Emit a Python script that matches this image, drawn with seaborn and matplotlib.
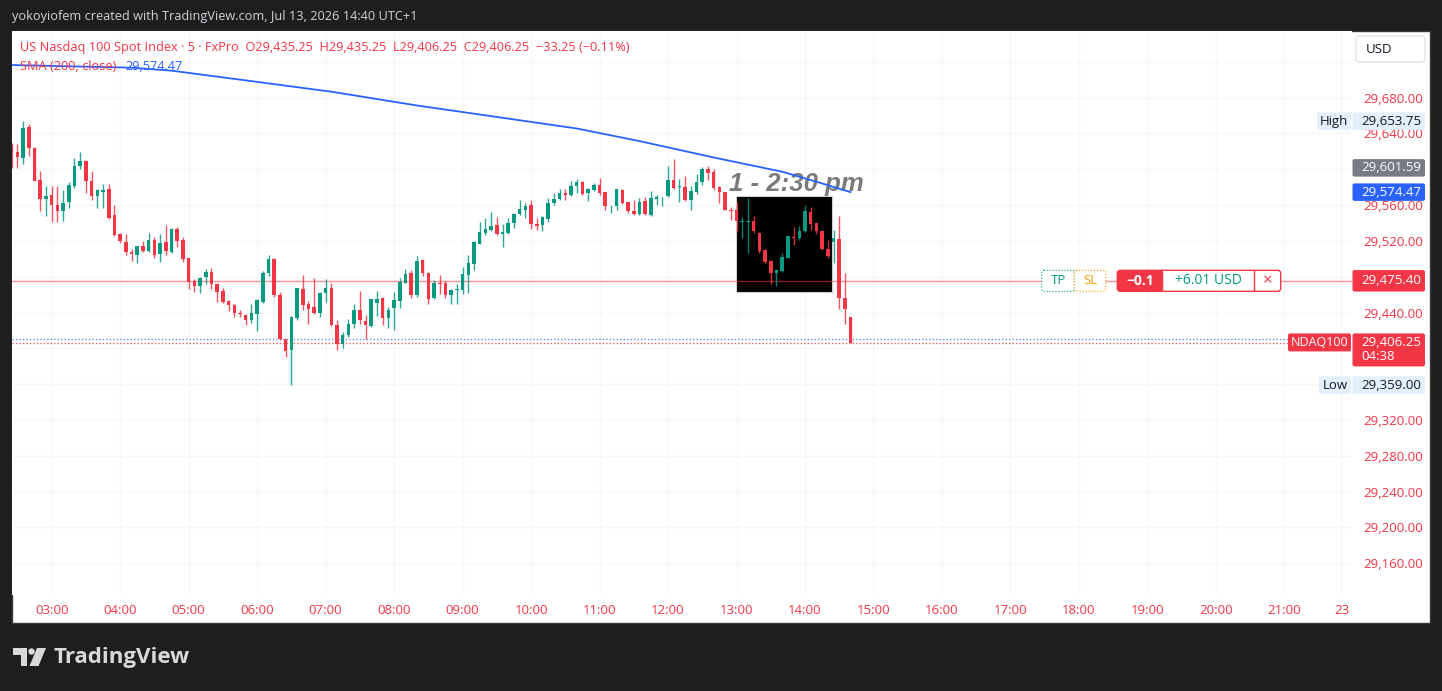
import numpy as np
import pandas as pd
import seaborn as sns
import matplotlib.pyplot as plt
from matplotlib.patches import Rectangle, FancyBboxPatch, Polygon, Circle

# 5 minute candles, first bar 02:25, last bar 14:40
opens = [29624.7, 29618.8, 29612.5, 29647.0, 29624.0, 29587.6, 29567.2, 29571.6, 29559.8, 29553.1,
         29563.1, 29581.7, 29603.2, 29608.8, 29587.2, 29570.5, 29574.6, 29578.0, 29549.4, 29527.8,
         29518.9, 29507.8, 29504.8, 29514.1, 29508.5, 29520.8, 29505.9, 29518.6, 29507.4, 29533.4,
         29520.8, 29500.4, 29475.1, 29469.6, 29479.6, 29485.2, 29472.2, 29463.6, 29452.9, 29448.4,
         29439.1, 29437.6, 29431.3, 29438.4, 29452.1, 29484.4, 29500.0, 29459.9, 29410.2, 29397.9,
         29433.6, 29466.6, 29449.1, 29446.2, 29439.1, 29462.1, 29467.7, 29425.8, 29404.6, 29414.6,
         29427.6, 29442.5, 29430.6, 29425.0, 29451.0, 29456.6, 29433.9, 29445.4, 29452.5, 29473.3,
         29483.7, 29459.2, 29498.5, 29484.4, 29456.6, 29472.5, 29473.3, 29459.2, 29465.1, 29464.7,
         29481.8, 29493.7, 29516.7, 29529.0, 29532.7, 29537.5, 29527.8, 29529.0, 29540.1, 29549.7,
         29554.9, 29559.8, 29539.0, 29538.2, 29544.9, 29562.0, 29567.2, 29573.5, 29571.3, 29581.7,
         29585.8, 29573.5, 29577.2, 29582.8, 29574.2, 29558.6, 29558.6, 29577.2, 29563.1, 29553.1,
         29550.5, 29564.2, 29549.4, 29567.2, 29568.7, 29569.8, 29588.3, 29580.2, 29580.2, 29565.3,
         29574.2, 29585.8, 29600.6, 29596.5, 29579.8, 29574.2, 29554.9, 29554.9, 29540.8, 29540.8,
         29541.9, 29529.0, 29509.6, 29497.4, 29483.7, 29486.3, 29501.1, 29524.1, 29523.0, 29530.8,
         29552.7, 29539.7, 29531.5, 29511.1, 29518.6, 29522.3, 29455.8, 29435.25]
highs = [29629.2, 29628.1, 29653.75, 29650.7, 29625.0, 29598.4, 29581.7, 29581.7, 29581.7, 29577.2,
         29585.4, 29612.5, 29618.8, 29610.6, 29597.6, 29578.0, 29583.9, 29583.9, 29560.5, 29528.9,
         29528.2, 29510.4, 29514.5, 29519.7, 29528.9, 29524.5, 29528.2, 29538.2, 29534.5, 29535.6,
         29524.5, 29501.0, 29477.0, 29479.6, 29488.1, 29490.0, 29473.3, 29467.7, 29453.6, 29449.1,
         29442.8, 29438.4, 29449.1, 29454.7, 29486.3, 29504.8, 29500.8, 29462.9, 29410.9, 29436.0,
         29467.7, 29481.8, 29452.9, 29478.8, 29462.9, 29477.0, 29472.5, 29431.3, 29418.3, 29433.2,
         29449.1, 29464.0, 29436.9, 29455.5, 29463.6, 29457.7, 29446.5, 29462.9, 29478.8, 29488.1,
         29487.0, 29502.6, 29499.3, 29485.2, 29476.2, 29481.8, 29475.1, 29465.9, 29471.4, 29490.7,
         29504.8, 29519.7, 29541.6, 29545.3, 29552.7, 29546.8, 29539.3, 29545.7, 29551.2, 29566.1,
         29562.4, 29565.3, 29545.7, 29547.5, 29567.6, 29573.5, 29578.0, 29578.0, 29587.2, 29589.1,
         29586.5, 29579.1, 29584.6, 29590.2, 29575.0, 29560.5, 29578.3, 29578.3, 29563.5, 29566.1,
         29567.9, 29569.0, 29576.1, 29571.6, 29569.5, 29603.9, 29611.4, 29589.1, 29592.8, 29580.9,
         29595.0, 29602.5, 29603.9, 29600.2, 29581.7, 29575.0, 29557.5, 29563.1, 29546.8, 29567.9,
         29548.3, 29529.7, 29511.1, 29498.5, 29488.1, 29506.7, 29526.0, 29535.3, 29537.1, 29559.8,
         29557.9, 29540.1, 29531.9, 29521.5, 29532.7, 29548.3, 29484.4, 29435.25]
lows = [29601.3, 29601.3, 29605.8, 29614.3, 29586.5, 29553.1, 29547.5, 29540.8, 29540.8, 29542.7,
        29556.8, 29579.1, 29600.2, 29573.5, 29566.1, 29556.8, 29556.8, 29545.0, 29526.0, 29517.8,
        29504.8, 29497.4, 29495.5, 29507.4, 29507.4, 29501.1, 29496.3, 29504.1, 29506.7, 29513.4,
        29496.7, 29466.6, 29462.9, 29462.1, 29471.4, 29465.9, 29451.7, 29451.0, 29441.7, 29435.4,
        29435.4, 29425.8, 29428.7, 29419.5, 29451.0, 29480.7, 29457.7, 29409.4, 29389.8, 29359.0,
        29431.7, 29442.5, 29427.6, 29438.4, 29435.4, 29451.7, 29425.0, 29398.3, 29400.5, 29413.1,
        29422.8, 29426.9, 29410.9, 29424.3, 29436.1, 29425.8, 29423.2, 29420.6, 29445.4, 29472.5,
        29456.2, 29457.7, 29480.7, 29449.1, 29455.5, 29460.3, 29456.2, 29449.1, 29449.1, 29460.3,
        29461.4, 29487.0, 29516.0, 29526.7, 29530.8, 29527.1, 29513.4, 29528.2, 29534.5, 29549.4,
        29545.7, 29533.4, 29532.7, 29530.8, 29541.6, 29560.5, 29565.3, 29566.1, 29570.5, 29573.5,
        29570.9, 29564.2, 29575.4, 29570.9, 29554.2, 29551.2, 29554.2, 29561.2, 29551.2, 29549.4,
        29549.4, 29549.4, 29548.3, 29560.5, 29559.4, 29569.0, 29578.3, 29563.5, 29564.2, 29554.2,
        29572.8, 29582.8, 29587.6, 29577.2, 29562.4, 29554.2, 29543.1, 29530.8, 29523.4, 29506.7,
        29528.9, 29506.7, 29495.5, 29471.4, 29469.6, 29485.5, 29500.4, 29515.2, 29521.5, 29529.7,
        29531.9, 29528.2, 29509.6, 29501.1, 29495.5, 29443.6, 29426.9, 29406.25]
closes = [29618.8, 29613.6, 29646.6, 29623.6, 29587.2, 29567.2, 29570.5, 29559.8, 29553.1, 29562.4,
          29582.8, 29603.9, 29608.8, 29587.2, 29570.5, 29577.2, 29577.2, 29545.7, 29527.1, 29519.7,
          29507.4, 29505.9, 29514.1, 29508.5, 29521.5, 29504.8, 29517.8, 29508.5, 29533.4, 29520.4,
          29499.3, 29474.0, 29469.6, 29478.8, 29485.2, 29471.4, 29463.2, 29452.1, 29448.0, 29439.1,
          29438.4, 29431.3, 29439.5, 29454.0, 29484.4, 29500.0, 29459.5, 29410.2, 29397.2, 29435.4,
          29467.0, 29448.0, 29444.3, 29439.1, 29462.1, 29467.0, 29425.8, 29404.6, 29415.0, 29426.9,
          29442.5, 29431.3, 29425.8, 29454.7, 29455.5, 29433.9, 29442.5, 29454.0, 29474.4, 29482.6,
          29459.5, 29497.4, 29484.4, 29454.7, 29472.5, 29471.8, 29459.5, 29464.7, 29465.9, 29482.6,
          29494.8, 29518.6, 29529.7, 29533.4, 29537.1, 29528.2, 29529.7, 29540.1, 29550.1, 29555.7,
          29559.0, 29539.0, 29537.1, 29546.4, 29562.0, 29567.2, 29573.5, 29571.3, 29580.9, 29585.4,
          29572.8, 29578.0, 29582.8, 29573.5, 29558.6, 29559.4, 29578.0, 29562.4, 29553.1, 29550.5,
          29563.1, 29550.5, 29567.9, 29569.0, 29569.0, 29588.3, 29579.1, 29580.6, 29565.3, 29575.4,
          29585.8, 29600.6, 29595.8, 29579.1, 29574.2, 29554.9, 29553.8, 29541.9, 29541.2, 29541.2,
          29530.8, 29508.5, 29496.7, 29484.4, 29487.0, 29502.2, 29525.2, 29523.0, 29531.5, 29553.8,
          29539.3, 29531.5, 29510.4, 29503.0, 29523.4, 29455.8, 29443.6, 29406.25]

# SMA (200, close) at a few bars
sma_bars = [0, 21, 28, 42, 56, 71, 99, 110, 123, 135, 141, 147]
sma_vals = [29716.5, 29713.5, 29710.2, 29698.5, 29686.7, 29671.3, 29645.6,
            29631.5, 29613.2, 29597.3, 29586.1, 29574.47]

price_ticks = [29160, 29200, 29240, 29280, 29320, 29360, 29400, 29440, 29480,
               29520, 29560, 29600, 29640, 29680, 29720]
# tick labels hidden behind the price-scale tags
hidden_ticks = [29360, 29400, 29480, 29600, 29720]
hour_labels = ['03:00', '04:00', '05:00', '06:00', '07:00', '08:00', '09:00', '10:00',
               '11:00', '12:00', '13:00', '14:00', '15:00', '16:00', '17:00', '18:00',
               '19:00', '20:00', '21:00']
first_bar_min = 2 * 60 + 25

high_price = 29653.75
low_price = 29359.00
avg_price = 29601.59
sma_last = 29574.47
position_price = 29475.40
last_price = 29406.25
ask_price = 29410.0

# black highlight box (bars / prices)
box_bars = (126.95, 143.8)
box_prices = (29462.6, 29570.2)

RED = '#f23645'
GREEN = '#089981'
BLUE = '#2962ff'

sns.set_theme(style='white')
plt.rcParams['font.family'] = ['Open Sans', 'DejaVu Sans']

W, H = 1442, 691
fig = plt.figure(figsize=(W / 100, H / 100), dpi=100)
fig.patch.set_facecolor('#1e1e1e')

bg = fig.add_axes([0, 0, 1, 1], zorder=-5)
bg.set_xlim(0, W)
bg.set_ylim(H, 0)
bg.axis('off')
bg.add_patch(Rectangle((12, 31), 1418, 592, fc='white', ec='#3a3a3a', lw=1))

ax = fig.add_axes([12 / W, 1 - 595 / H, 1340 / W, 564 / H])
ax.set_facecolor('white')

df = pd.DataFrame({'open': opens, 'high': highs, 'low': lows, 'close': closes})
df['bar'] = np.arange(len(df))
up = df['close'] >= df['open']
colors = np.where(up, GREEN, RED)

# candles
ax.vlines(df['bar'], df['low'], df['high'], colors=colors, lw=1, alpha=0.85, zorder=4)
body_low = np.minimum(df['open'], df['close'])
body_h = np.maximum((df['close'] - df['open']).abs(), 0.9)
ax.bar(df['bar'], body_h, bottom=body_low, width=0.62, color=colors, lw=0, zorder=5)

# highlight box
ax.add_patch(Rectangle((box_bars[0], box_prices[0]), box_bars[1] - box_bars[0],
                       box_prices[1] - box_prices[0], fc='black', ec='#d0d0d0', lw=0.8, zorder=2))

# position and price lines
ax.axhline(position_price, color=RED, alpha=0.55, lw=1, zorder=3)
ax.axhline(ask_price, xmax=(1288 - 12) / 1340, color='#6d8cff', ls=(0, (1, 1.5)), lw=1, zorder=3)
ax.axhline(last_price, xmax=(1288 - 12) / 1340, color=RED, ls=(0, (1, 1.5)), lw=1, alpha=0.8, zorder=3)

sns.lineplot(x=sma_bars, y=sma_vals, ax=ax, color=BLUE, lw=1.3, zorder=6)

ax.text(125.7, 29576, '1 - 2:30 pm', family=['Liberation Sans', 'DejaVu Sans'], fontsize=18.5,
        fontweight='bold', style='italic', color='#7b7b7b', va='baseline', zorder=5)

ax.set_xlim(0.05, 234.85)
ax.set_ylim(29124.4, 29754.5)

xt = [(int(h[:2]) * 60 - first_bar_min) / 5 for h in hour_labels] + [233]
ax.set_xticks(xt)
ax.set_xticklabels(hour_labels + ['23'])
ax.set_yticks(price_ticks)
ax.set_yticklabels(['' if p in hidden_ticks else f'{p:,.2f}' for p in price_ticks])
ax.yaxis.tick_right()
ax.tick_params(axis='x', length=0, pad=6.5, labelsize=9.5, labelcolor=RED)
ax.tick_params(axis='y', length=0, pad=8, labelsize=9.5, labelcolor=RED)
for s in ax.spines.values():
    s.set_visible(False)
ax.grid(True, color='#f7f7f7', lw=1)
ax.set_axisbelow(True)
ax.set_xlabel('')
ax.set_ylabel('')

# overlay in pixel coordinates for the TradingView chrome
ui = fig.add_axes([0, 0, 1, 1], zorder=10)
ui.set_xlim(0, W)
ui.set_ylim(H, 0)
ui.axis('off')
ui.patch.set_alpha(0)


def py(p):
    return H - ax.transData.transform((0, p))[1]


def rbox(x0, x1, y0, y1, fc, ec='none', lw=1, ls='-', r=2):
    ui.add_patch(FancyBboxPatch((x0, y0), x1 - x0, y1 - y0,
                                boxstyle=f'round,pad=0,rounding_size={r}',
                                fc=fc, ec=ec, lw=lw, ls=ls))


def price_tag(p, fc, tc, h=17.5):
    yc = py(p)
    rbox(1352.5, 1425, yc - h / 2, yc + h / 2, fc)
    ui.text(1361, yc, f'{p:,.2f}', color=tc, fontsize=9.5, ha='left', va='center')


# header and legend
ui.text(12, 16, 'yokoyiofem created with TradingView.com, Jul 13, 2026 14:40 UTC+1',
        color='#d1d4dc', fontsize=9.2, va='center')
ui.text(20, 47, 'US Nasdaq 100 Spot Index · 5 · FxPro  O29,435.25  H29,435.25  '
        'L29,406.25  C29,406.25  \u221233.25 (\u22120.11%)', color=RED, fontsize=9.2, va='center')
ui.text(20, 66, 'SMA (200, close)', color=RED, fontsize=9.2, va='center')
ui.text(125, 66, f'{sma_last:,.2f}', color=BLUE, fontsize=9.2, va='center')

# USD box
rbox(1356, 1425, 36, 62, 'white', ec='#e0e3eb', r=4)
ui.text(1366, 49, 'USD', color='#131722', fontsize=9.5, va='center')

# price scale tags
yh = py(high_price)
rbox(1317, 1351, yh - 8.75, yh + 8.75, '#e3effd')
ui.text(1334, yh, 'High', color='#131722', fontsize=9.5, ha='center', va='center')
price_tag(high_price, '#e3effd', '#131722')
price_tag(avg_price, '#787b86', 'white')
price_tag(sma_last, BLUE, 'white')
price_tag(position_price, RED, 'white', h=21.5)

yl = py(low_price)
rbox(1319, 1351, yl - 8.75, yl + 8.75, '#e3effd')
ui.text(1335, yl, 'Low', color='#131722', fontsize=9.5, ha='center', va='center')
price_tag(low_price, '#e3effd', '#131722')

yc = py(last_price)
rbox(1288, 1351, yc - 9.3, yc + 8.7, RED)
ui.text(1319.5, yc, 'NDAQ100', color='white', fontsize=9, ha='center', va='center')
rbox(1352.5, 1425, yc - 9.3, yc + 23.7, RED)
ui.text(1361, yc + 7.2, f'{last_price:,.2f}\n04:38', color='white', fontsize=9.5,
        ha='left', va='center', linespacing=1.1)

# position widget on the red line
yp = py(position_price)
rbox(1041.7, 1074.3, yp - 10.5, yp + 10.5, 'white', ec=GREEN, lw=0.8, ls=':')
ui.text(1058, yp, 'TP', color=GREEN, fontsize=9.5, ha='center', va='center')
rbox(1074.3, 1105.7, yp - 10.5, yp + 10.5, 'white', ec='#ff9800', lw=0.8, ls=':')
ui.text(1090, yp, 'SL', color='#ff9800', fontsize=9.5, ha='center', va='center')
rbox(1117.3, 1280.7, yp - 10.5, yp + 10.5, 'white', ec=RED, lw=1, r=3)
rbox(1117.3, 1163.3, yp - 10.5, yp + 10.5, RED, r=3)
ui.add_patch(Rectangle((1158, yp - 10.5), 5.3, 21, fc=RED, ec='none'))
ui.plot([1254, 1254], [yp - 10.5, yp + 10.5], color=RED, lw=1)
ui.text(1140.3, yp, '\u22120.1', color='white', fontsize=10, fontweight='bold',
        ha='center', va='center')
ui.text(1208.6, yp, '+6.01 USD', color=GREEN, fontsize=10, ha='center', va='center')
ui.text(1267.3, yp, '\u00d7', color=RED, fontsize=12, ha='center', va='center')

# TradingView logo
ui.add_patch(Polygon([(13, 648), (27, 648), (27, 666), (20.5, 666), (20.5, 655), (13, 655)],
                     closed=True, fc='#d9d9d9', ec='none'))
ui.add_patch(Circle((31.5, 651.5), 3.2, fc='#d9d9d9', ec='none'))
ui.add_patch(Polygon([(37, 648), (46, 648), (38.5, 666), (29.5, 666)],
                     closed=True, fc='#d9d9d9', ec='none'))
ui.text(54, 658, 'TradingView', color='#d9d9d9', fontsize=16, fontweight='bold',
        ha='left', va='center')

fig.savefig('out.png', dpi=100, facecolor=fig.get_facecolor())
